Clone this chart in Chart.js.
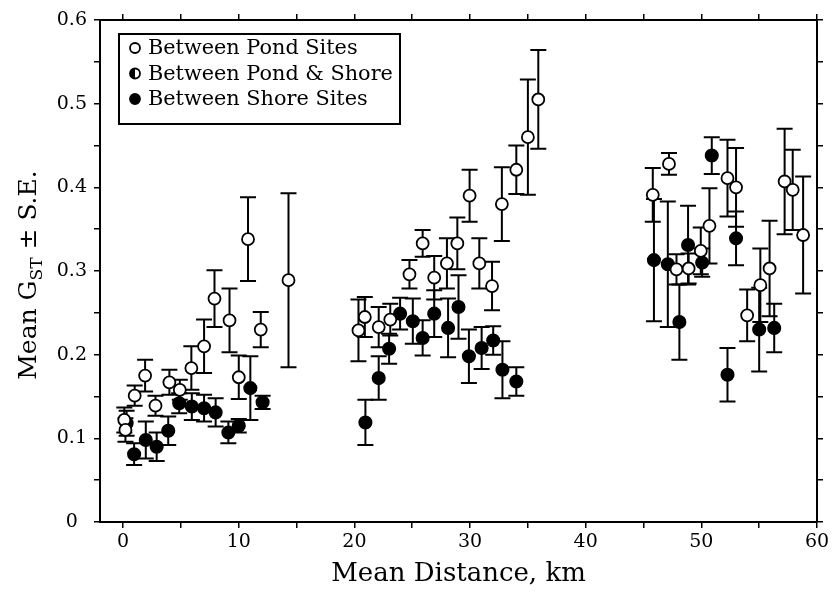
<!DOCTYPE html>
<html>
<head>
<meta charset="utf-8">
<script src="https://cdn.jsdelivr.net/npm/chart.js@4/dist/chart.umd.min.js"></script>
<style>
  html, body { margin: 0; padding: 0; background: #fff; }
  #wrap { width: 839px; height: 593px; }
</style>
</head>
<body>
<div id="wrap"><canvas id="chart" width="839" height="593"></canvas></div>
<script>
(function(){
  'use strict';

  const FONT = '"DejaVu Serif", "Liberation Serif", serif';

  // Between Pond Sites (open circles)
  let pondX  = [0.1, 0.2, 1.0, 1.9, 2.8, 4.0, 4.9, 5.9, 7.0, 7.9, 9.2, 10.0, 10.8, 11.9, 14.3,
                20.35, 20.9, 22.1, 23.1, 24.76, 25.9, 26.9, 28.0, 28.9, 29.96, 30.8, 31.9, 32.75, 34.0, 35.0, 35.9,
                45.8, 47.2, 47.85, 48.9, 49.95, 50.7, 52.26, 53.0, 53.96, 55.1, 55.9, 57.2, 57.9, 58.8];
  let pondY  = [0.122, 0.110, 0.151, 0.175, 0.139, 0.167, 0.158, 0.184, 0.210, 0.267, 0.241, 0.173, 0.338, 0.230, 0.289,
                0.229, 0.245, 0.233, 0.242, 0.296, 0.333, 0.292, 0.309, 0.333, 0.390, 0.309, 0.282, 0.380, 0.421, 0.460, 0.505,
                0.391, 0.428, 0.302, 0.303, 0.324, 0.354, 0.411, 0.400, 0.247, 0.283, 0.303, 0.407, 0.397, 0.343];
  let pondSE = [0.015, 0.014, 0.012, 0.019, 0.012, 0.015, 0.012, 0.026, 0.032, 0.034, 0.038, 0.026, 0.050, 0.021, 0.104,
                0.037, 0.024, 0.024, 0.019, 0.017, 0.016, 0.026, 0.030, 0.031, 0.031, 0.030, 0.029, 0.044, 0.029, 0.069, 0.059,
                0.032, 0.013, 0.018, 0.018, 0.028, 0.045, 0.046, 0.047, 0.031, 0.044, 0.057, 0.063, 0.048, 0.070];

  // Between Pond & Shore (half-filled) - none distinguishable in the figure
  let mixedX  = [];
  let mixedY  = [];
  let mixedSE = [];

  // Between Shore Sites (filled circles)
  let shoreX  = [0.3, 0.95, 1.96, 2.9, 3.9, 4.85, 5.94, 7.0, 8.0, 9.1, 10.0, 11.0, 12.06,
                 20.95, 22.1, 23.0, 23.95, 25.05, 25.9, 26.9, 28.1, 29.0, 29.9, 31.0, 32.0, 32.8, 34.0,
                 45.9, 47.1, 48.1, 48.85, 50.07, 50.9, 52.26, 53.0, 55.0, 56.3];
  let shoreY  = [0.118, 0.081, 0.098, 0.090, 0.109, 0.142, 0.138, 0.136, 0.131, 0.107, 0.115, 0.160, 0.143,
                 0.119, 0.172, 0.207, 0.249, 0.240, 0.220, 0.249, 0.232, 0.257, 0.198, 0.208, 0.217, 0.182, 0.168,
                 0.313, 0.308, 0.239, 0.331, 0.310, 0.438, 0.176, 0.339, 0.230, 0.232];
  let shoreSE = [0.015, 0.013, 0.022, 0.017, 0.017, 0.012, 0.016, 0.016, 0.017, 0.013, 0.008, 0.038, 0.008,
                 0.027, 0.026, 0.018, 0.019, 0.027, 0.021, 0.028, 0.035, 0.038, 0.032, 0.025, 0.017, 0.034, 0.017,
                 0.073, 0.075, 0.045, 0.047, 0.017, 0.022, 0.032, 0.032, 0.050, 0.029];

  let xMin = -2, xMax = 60, xStep = 5;
  let yMin = 0, yMax = 0.6, yStep = 0.05;

  function points(xs, ys, ses) {
    return xs.map((x, i) => ({ x: x, y: ys[i], se: ses[i] }));
  }

  // error bars drawn under the markers
  const errorBars = {
    id: 'errorBars',
    beforeDatasetsDraw(chart) {
      const ctx = chart.ctx;
      const xs = chart.scales.x, ys = chart.scales.y;
      ctx.save();
      ctx.strokeStyle = '#000';
      ctx.lineWidth = 2;
      chart.data.datasets.forEach(ds => {
        ds.data.forEach(p => {
          const px = xs.getPixelForValue(p.x);
          const top = ys.getPixelForValue(p.y + p.se);
          const bot = ys.getPixelForValue(p.y - p.se);
          ctx.beginPath();
          ctx.moveTo(px, top); ctx.lineTo(px, bot);
          ctx.moveTo(px - 8, top); ctx.lineTo(px + 8, top);
          ctx.moveTo(px - 8, bot); ctx.lineTo(px + 8, bot);
          ctx.stroke();
        });
      });
      ctx.restore();
    }
  };

  // boxed legend in the upper left of the plot
  const boxLegend = {
    id: 'boxLegend',
    afterDraw(chart) {
      const ctx = chart.ctx;
      const left = 119, top = 34, w = 281, h = 90, row = 25.5;
      ctx.save();
      ctx.fillStyle = '#fff';
      ctx.fillRect(left, top, w, h);
      ctx.strokeStyle = '#000';
      ctx.lineWidth = 2;
      ctx.strokeRect(left, top, w, h);
      ctx.font = '20.8px ' + FONT;
      ctx.textBaseline = 'middle';
      chart.data.datasets.forEach((ds, i) => {
        const cy = top + 14 + i * row;
        const cx = 135;
        ctx.lineWidth = 1.8;
        ctx.beginPath();
        ctx.arc(cx, cy, 5, 0, Math.PI * 2);
        ctx.fillStyle = ds.legendStyle === 'filled' ? '#000' : '#fff';
        ctx.fill();
        if (ds.legendStyle === 'half') {
          ctx.beginPath();
          ctx.arc(cx, cy, 5, Math.PI / 2, Math.PI * 1.5);
          ctx.closePath();
          ctx.fillStyle = '#000';
          ctx.fill();
          ctx.beginPath();
          ctx.arc(cx, cy, 5, 0, Math.PI * 2);
        }
        ctx.stroke();
        ctx.fillStyle = '#000';
        ctx.textAlign = 'left';
        ctx.fillText(ds.label, 148, cy + 1);
      });
      ctx.restore();
    }
  };

  // y title with subscript
  const yTitle = {
    id: 'yTitle',
    afterDraw(chart) {
      const ctx = chart.ctx;
      const area = chart.chartArea;
      const big = '25px ' + FONT, small = '17px ' + FONT;
      const parts = [
        { t: 'Mean G', f: big, dy: 0 },
        { t: 'ST', f: small, dy: 6 },
        { t: ' \u00B1 S.E.', f: big, dy: 0 }
      ];
      ctx.save();
      let total = 0;
      parts.forEach(p => { ctx.font = p.f; p.w = ctx.measureText(p.t).width; total += p.w; });
      ctx.translate(27, (area.top + area.bottom) / 2 + 4);
      ctx.rotate(-Math.PI / 2);
      ctx.fillStyle = '#000';
      ctx.textBaseline = 'alphabetic';
      ctx.textAlign = 'left';
      let x = -total / 2;
      parts.forEach(p => {
        ctx.font = p.f;
        ctx.fillText(p.t, x, 9 + p.dy);
        x += p.w;
      });
      ctx.restore();
    }
  };

  // tick marks every 5 km starting at 0 (axis itself starts a little left of 0)
  const fiveTicks = s => {
    const t = [];
    for (let v = 0; v <= xMax; v += xStep) t.push({ value: v });
    s.ticks = t;
  };
  const gridOpts = { drawOnChartArea: false, drawTicks: true, tickLength: 6, color: '#000', lineWidth: 1.5 };
  const borderOpts = { color: '#000', width: 2 };

  let canvas = document.getElementById('chart');

  let scatterChart = new Chart(canvas, {
    type: 'scatter',
    data: {
      datasets: [
        {
          label: 'Between Pond Sites',
          legendStyle: 'open',
          data: points(pondX, pondY, pondSE),
          backgroundColor: '#fff',
          borderColor: '#000',
          borderWidth: 1.8,
          pointRadius: 6
        },
        {
          label: 'Between Pond & Shore',
          legendStyle: 'half',
          data: points(mixedX, mixedY, mixedSE),
          backgroundColor: '#000',
          borderColor: '#000',
          borderWidth: 1.8,
          pointRadius: 6
        },
        {
          label: 'Between Shore Sites',
          legendStyle: 'filled',
          data: points(shoreX, shoreY, shoreSE),
          backgroundColor: '#000',
          borderColor: '#000',
          borderWidth: 1.5,
          pointRadius: 6.3
        }
      ]
    },
    options: {
      responsive: false,
      animation: false,
      events: [],
      layout: { padding: 0 },
      plugins: { legend: { display: false }, tooltip: { enabled: false } },
      scales: {
        x: {
          type: 'linear', position: 'bottom', min: xMin, max: xMax,
          afterBuildTicks: fiveTicks,
          ticks: {
            color: '#000', font: { family: FONT, size: 19 }, padding: 3,
            maxRotation: 0, autoSkip: false,
            callback: v => (Math.round(v) % 10 === 0 ? String(Math.round(v)) : '')
          },
          grid: gridOpts,
          border: borderOpts,
          title: { display: true, text: 'Mean Distance, km', color: '#000', font: { family: FONT, size: 26 }, padding: { top: 0, bottom: 3 } },
          afterFit: s => { s.height = 71; }
        },
        x2: {
          type: 'linear', position: 'top', min: xMin, max: xMax,
          afterBuildTicks: fiveTicks,
          ticks: { autoSkip: false, callback: () => '' },
          grid: gridOpts,
          border: borderOpts,
          afterFit: s => { s.height = 20; }
        },
        y: {
          type: 'linear', position: 'left', min: yMin, max: yMax,
          ticks: {
            stepSize: yStep, color: '#000', font: { family: FONT, size: 19 }, padding: 7,
            crossAlign: 'center', autoSkip: false,
            callback: v => {
              const r = Math.round(v * 100);
              if (r % 10 !== 0) return '';
              return r === 0 ? '0' : (r / 100).toFixed(1);
            }
          },
          grid: gridOpts,
          border: borderOpts,
          afterFit: s => { s.width = 100; }
        },
        y2: {
          type: 'linear', position: 'right', min: yMin, max: yMax,
          ticks: { stepSize: yStep, autoSkip: false, callback: () => '' },
          grid: gridOpts,
          border: borderOpts,
          afterFit: s => { s.width = 22; }
        }
      }
    },
    plugins: [errorBars, boxLegend, yTitle]
  });
})();
</script>
</body>
</html>
